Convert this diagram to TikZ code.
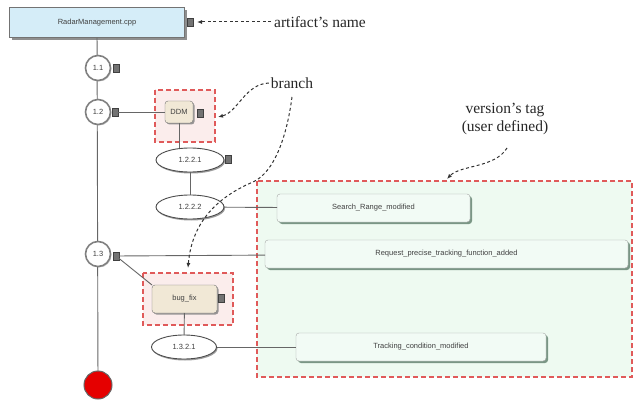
\documentclass[tikz,border=0pt]{standalone}
\usepackage{fontspec}
\setmainfont{Liberation Serif}
\setsansfont{Liberation Sans}
\usetikzlibrary{shapes.geometric,shadows,arrows.meta,calc}
\definecolor{zonered}{HTML}{E05A5A}
\definecolor{zonegreen}{HTML}{EEFAF1}
\definecolor{zonepink}{HTML}{FBEDEC}
\definecolor{boxgreen}{HTML}{F2FBF5}
\definecolor{shadowgreen}{HTML}{6E8C7A}
\definecolor{artblue}{HTML}{D5EDF8}
\definecolor{beige}{HTML}{F1E8D6}
\definecolor{linegray}{HTML}{666666}
\tikzset{
  every node/.style={inner sep=0pt, outer sep=0pt},
  lbl/.style={font=\fontsize{15.5}{18}\selectfont\rmfamily, text=black!85},
  small/.style={font=\sffamily\fontsize{7.5}{9}\selectfont, text=black!75},
  conn/.style={draw=linegray, line width=0.9pt},
  note/.style={draw=black!80, dashed, dash pattern=on 3pt off 2.5pt, line width=1pt, -{Latex[length=5pt,width=4pt]}},
  vcircle/.style={circle, draw=black!50, line width=1.6pt, fill=white, minimum size=25pt, small,
     drop shadow={shadow xshift=1pt, shadow yshift=-1pt, fill=black!40, opacity=0.6}},
  vellipse/.style={ellipse, draw=black!70, line width=0.9pt, fill=white, minimum width=68pt, minimum height=24pt, small,
     drop shadow={shadow xshift=1pt, shadow yshift=-1.5pt, fill=black!55, opacity=0.7}},
  tagbox/.style={rectangle, draw=black!75, fill=black!55, minimum width=6pt, minimum height=8pt},
  msgbox/.style={rectangle, rounded corners=3pt, draw=black!35, fill=boxgreen, small, minimum height=28pt,
     drop shadow={shadow xshift=2pt, shadow yshift=-2pt, fill=shadowgreen, opacity=0.9}},
  brbox/.style={rectangle, rounded corners=3pt, draw=black!55, fill=beige, small, minimum height=27pt,
     drop shadow={shadow xshift=1.5pt, shadow yshift=-1.5pt, fill=black!50, opacity=0.8}},
  zonebox/.style={draw=zonered, line width=1.1pt, dash pattern=on 5pt off 3pt},
}
\begin{document}
\begin{tikzpicture}[x=1pt,y=-1pt]
\useasboundingbox (0,0) rectangle (635,409);
% zones
\draw[zonebox, fill=zonegreen] (257,181) rectangle (632,377);
\draw[zonebox, fill=zonepink] (155,90) rectangle (215,142);
\draw[zonebox, fill=zonepink] (143,273) rectangle (233,325);
% artifact
\node[rectangle, draw=black!55, line width=1pt, fill=artblue, minimum width=175pt, minimum height=30pt, small,
  drop shadow={shadow xshift=2pt, shadow yshift=-2pt, fill=black!55, opacity=0.8}] (art) at (97,23) {RadarManagement.cpp};
\node[tagbox] (tagart) at (190,22) {};
% end
\node[circle, draw=black!60, line width=1pt, fill=red!90!black, minimum size=28pt] (endc) at (98,385) {};
\draw[conn] (art) -- (endc);
% versions
\node[vcircle] (v11) at (98,68) {1.1};
\node[tagbox] (tag11) at (116,68) {};
\node[vcircle] (v12) at (98,112) {1.2};
\node[tagbox] (tag12) at (115,112) {};
\node[vcircle] (v13) at (98,254) {1.3};
\node[tagbox] (tag13) at (116,256) {};
% branch DDM
\node[brbox, minimum width=28pt, minimum height=22pt] (ddm) at (179,112) {DDM};
\node[tagbox] (tagddm) at (200,113) {};
\draw[conn] (tag12) -- (ddm);
\node[vellipse] (v1221) at (190,160) {1.2.2.1};
\node[tagbox] (tag1221) at (228,159) {};
\node[vellipse] (v1222) at (190,207) {1.2.2.2};
\draw[conn] (ddm) -- (ddm |- v1221.north);
\draw[conn] (v1221) -- (v1222);
% branch bug_fix
\node[brbox, minimum width=65pt, minimum height=28pt] (bug) at (184.5,299) {bug\_fix};
\node[tagbox] (tagbug) at (221,298) {};
\draw[conn] (tag13) -- (bug.north west);
\node[vellipse, minimum width=65pt] (v1321) at (184,347) {1.3.2.1};
\draw[conn] (bug) -- (v1321);
% message tags
\node[msgbox, minimum width=193pt] (sr) at (373.5,208) {Search\_Range\_modified};
\node[msgbox, minimum width=363pt] (rp) at (446.5,254) {Request\_precise\_tracking\_function\_added};
\node[msgbox, minimum width=250pt] (tc) at (421,347) {Tracking\_condition\_modified};
\draw[conn] (v1222) -- (sr);
\draw[conn] (tag13) -- (rp);
\draw[conn] (v1321) -- (tc);
% labels
\node[lbl] (lart) at (320,22) {artifact's name};
\node[lbl] (lbr) at (292,83) {branch};
\node[lbl, align=center] (lver) at (505,119) {version's tag\\(user defined)};
\coordinate (aart) at (197,22);
\coordinate (addm) at (218,117);
\coordinate (abug) at (188,268);
\coordinate (aver) at (447,179);
\draw[note] (lart.west) ++(-3,0) -- (aart);
\draw[note] (lbr.west) ++(-2,0) .. controls (245,84) and (238,112) .. (addm);
\draw[note] (292,97) .. controls (287,135) and (275,172) .. (253,182) .. controls (220,196) and (192,220) .. (abug);
\draw[note] (507,148) .. controls (495,168) and (460,165) .. (aver);
\end{tikzpicture}
\end{document}
